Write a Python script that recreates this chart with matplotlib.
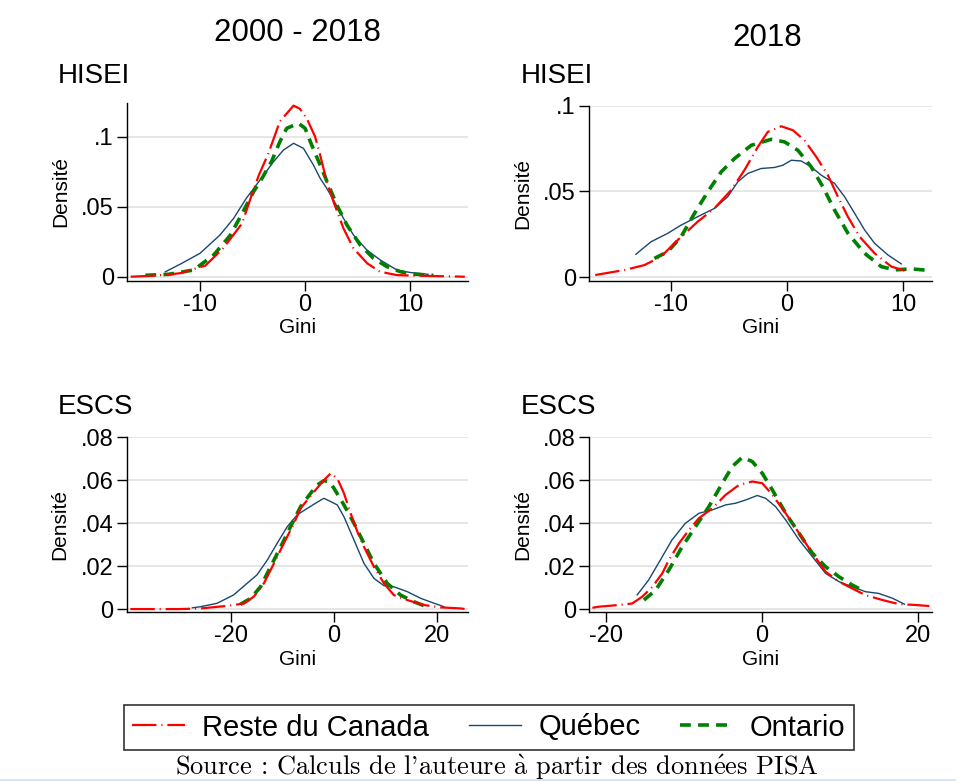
from matplotlib import pyplot as plt
from matplotlib.lines import Line2D

plt.rcParams.update({
    'font.family': ['Liberation Sans', 'DejaVu Sans'],
    'figure.dpi': 100,
    'axes.unicode_minus': False,
})

RED = '#ff0000'
NAVY = '#1a476f'
GREEN = '#008000'
RED_DASH = (11, 2.2, 0.5, 2.2)
GREEN_DASH = (3.0, 2.0)

# HISEI, 2000 - 2018
hisei_all_rdc_x = [-16.6, -15, -13, -11.9, -9.5, -7.8, -6.0, -5.1, -4.4, -3.5, -2.9, -2.4, -1.1, -0.5, 0.16, 0.95, 1.43, 2.06, 2.7, 3.65, 4.6, 5.9, 7.1, 8.7, 10, 12, 15.2]
hisei_all_rdc_y = [0, 0.0005, 0.0015, 0.0025, 0.0079, 0.0203, 0.038, 0.058, 0.0726, 0.088, 0.1005, 0.111, 0.1222, 0.120, 0.113, 0.1, 0.0869, 0.0679, 0.0536, 0.0345, 0.0203, 0.0096, 0.0036, 0.0012, 0.0008, 0.0005, 0]
hisei_all_qc_x = [-13.3, -11.9, -10, -8.1, -6.8, -5.6, -4.3, -3.0, -2.06, -1.1, -0.16, 0.79, 1.43, 2.06, 2.7, 3.65, 4.6, 5.87, 7.14, 8.73, 10, 11.7]
hisei_all_qc_y = [0.0035, 0.0089, 0.0167, 0.0298, 0.0417, 0.056, 0.069, 0.0822, 0.0905, 0.0953, 0.0917, 0.0798, 0.0703, 0.0631, 0.0548, 0.0417, 0.0298, 0.0191, 0.012, 0.0048, 0.003, 0.0017]
hisei_all_on_x = [-15.2, -13, -10.6, -8.7, -7.1, -5.9, -4.9, -4.1, -3.2, -2.4, -1.75, -0.63, 0, 0.63, 1.43, 2.22, 3.02, 3.97, 5.24, 6.51, 7.78, 9.05, 10, 12.2]
hisei_all_on_y = [0.001, 0.0017, 0.0048, 0.0155, 0.0298, 0.0465, 0.0608, 0.0703, 0.0822, 0.0965, 0.106, 0.1096, 0.106, 0.094, 0.0798, 0.0655, 0.0512, 0.037, 0.0227, 0.0131, 0.0072, 0.0036, 0.002, 0.001]

# HISEI, 2018
hisei_18_rdc_x = [-16.5, -16.0, -14, -12.27, -10.84, -9.4, -7.68, -6.25, -4.8, -3.66, -2.5, -1.65, -0.49, 0.52, 1.52, 2.53, 3.53, 4.4, 5.25, 6.27, 7.55, 9.0, 10.14]
hisei_18_rdc_y = [0.0013, 0.0019, 0.0042, 0.0071, 0.012, 0.0217, 0.0324, 0.0401, 0.0508, 0.0624, 0.076, 0.0847, 0.088, 0.0857, 0.0798, 0.0702, 0.0595, 0.0469, 0.0353, 0.0236, 0.014, 0.0062, 0.0039]
hisei_18_qc_x = [-13.0, -11.7, -10.26, -9.11, -7.68, -6.25, -5.1, -4.23, -3.37, -2.22, -1.06, -0.35, 0.38, 1.23, 2.1, 2.96, 4.11, 4.97, 5.84, 6.7, 7.55, 8.7, 9.85]
hisei_18_qc_y = [0.0134, 0.0207, 0.0256, 0.0304, 0.0353, 0.0401, 0.0469, 0.0556, 0.0605, 0.0634, 0.064, 0.0653, 0.0682, 0.0678, 0.0643, 0.0595, 0.0547, 0.0469, 0.0372, 0.0275, 0.0198, 0.013, 0.0078]
hisei_18_on_x = [-11.41, -10.26, -9.11, -7.96, -6.81, -5.66, -4.51, -3.07, -1.35, -0.2, 0.95, 2.1, 3.1, 4.11, 5.26, 6.69, 8.13, 9.28, 10.71, 12.4]
hisei_18_on_y = [0.011, 0.0149, 0.0236, 0.0372, 0.0498, 0.0614, 0.0692, 0.0769, 0.0804, 0.0789, 0.074, 0.0643, 0.0527, 0.0391, 0.0256, 0.014, 0.0062, 0.0043, 0.0049, 0.0039]

# ESCS, 2000 - 2018
escs_all_rdc_x = [-39.4, -30, -25.8, -20.6, -17.4, -15.5, -13.55, -11.6, -9.7, -7.74, -6.45, -5.16, -3.55, -1.93, -0.64, 0.65, 1.94, 3.23, 4.52, 5.81, 7.74, 9.68, 11.6, 14.2, 17.4, 20.6, 24.5, 25.5]
escs_all_rdc_y = [0, 0, 0.0003, 0.0015, 0.0026, 0.0058, 0.012, 0.0213, 0.0306, 0.0399, 0.0469, 0.0508, 0.0555, 0.0601, 0.0632, 0.0609, 0.0539, 0.0446, 0.0361, 0.029, 0.0197, 0.012, 0.0065, 0.0042, 0.0019, 0.0008, 0.0003, 0]
escs_all_qc_x = [-27.4, -25.8, -22.6, -19.4, -16.8, -14.9, -12.9, -11.0, -9.03, -7.1, -5.16, -3.55, -1.94, -0.65, 0.65, 1.94, 3.87, 5.81, 7.74, 9.68, 11.6, 14.2, 16.8, 19.4, 21.3]
escs_all_qc_y = [0.0006, 0.0011, 0.0027, 0.0066, 0.012, 0.0159, 0.0228, 0.0306, 0.0384, 0.0439, 0.0469, 0.0493, 0.0516, 0.0501, 0.0485, 0.043, 0.0322, 0.0213, 0.0143, 0.0109, 0.0104, 0.0081, 0.005, 0.0027, 0.0011]
escs_all_on_x = [-18.1, -16.1, -14.2, -12.26, -10.3, -8.39, -6.45, -4.52, -3.23, -1.94, -0.97, 0, 1.94, 3.87, 5.81, 7.74, 10.3, 12.9, 15.5, 17.5]
escs_all_on_y = [0.0022, 0.005, 0.0104, 0.0197, 0.029, 0.0384, 0.0477, 0.0539, 0.0578, 0.0598, 0.0594, 0.0563, 0.0485, 0.04, 0.0306, 0.0213, 0.012, 0.0065, 0.0034, 0.0015]

# ESCS, 2018
escs_18_rdc_x = [-21.7, -20.9, -18.3, -16.6, -15.3, -14.0, -12.75, -11.9, -10.6, -9.33, -8.05, -6.34, -4.62, -2.91, -1.2, 0.08, 1.37, 3.08, 4.8, 6.5, 8.2, 9.9, 11.6, 13.3, 15.5, 17.6, 19.8, 21.5]
escs_18_rdc_y = [0.0006, 0.0011, 0.0019, 0.0026, 0.0058, 0.0104, 0.0166, 0.0228, 0.0306, 0.0368, 0.0423, 0.0469, 0.0532, 0.0578, 0.0594, 0.0586, 0.0532, 0.0446, 0.0353, 0.026, 0.0174, 0.0128, 0.0096, 0.0065, 0.0042, 0.0023, 0.0019, 0.0014]
escs_18_qc_x = [-15.96, -14.5, -13.0, -11.5, -9.8, -8.05, -6.34, -4.62, -3.34, -2.06, -0.56, 0.5, 1.79, 3.08, 4.8, 6.5, 8.2, 9.9, 11.6, 13.3, 15.0, 16.8, 18.3]
escs_18_qc_y = [0.0066, 0.0135, 0.0228, 0.0322, 0.0399, 0.0446, 0.0462, 0.0485, 0.0493, 0.0508, 0.0529, 0.0516, 0.0477, 0.0415, 0.0322, 0.0244, 0.0166, 0.0128, 0.0104, 0.0081, 0.0073, 0.005, 0.0023]
escs_18_on_x = [-15.1, -13.6, -11.9, -10.2, -8.48, -6.77, -5.05, -3.77, -2.48, -1.2, 0.08, 1.37, 3.08, 4.8, 6.5, 8.2, 9.9, 11.6, 12.9]
escs_18_on_y = [0.0042, 0.0088, 0.0182, 0.029, 0.0384, 0.0477, 0.0586, 0.0664, 0.0707, 0.0687, 0.0632, 0.0555, 0.0446, 0.0353, 0.026, 0.0197, 0.0151, 0.0112, 0.0088]

labels = ['Reste du Canada', 'Québec', 'Ontario']

W, H = 956, 781
fig = plt.figure(figsize=(W / 100, H / 100))


def px_axes(left, right, top, bottom):
    return fig.add_axes([left / W, 1 - bottom / H, (right - left) / W, (bottom - top) / H])


def density_panel(ax, rdc, qc, on, xlim, ylim, yticks, yticklabels, xticks):
    ax.plot(qc[0], qc[1], color=NAVY, lw=1.0, zorder=3)
    ax.plot(on[0], on[1], color=GREEN, lw=2.6, dashes=GREEN_DASH, zorder=4)
    ax.plot(rdc[0], rdc[1], color=RED, lw=1.6, dashes=RED_DASH, zorder=5)
    ax.set_xlim(*xlim)
    ax.set_ylim(*ylim)
    ax.set_yticks(yticks)
    ax.set_yticklabels(yticklabels, fontsize=17)
    ax.set_xticks(xticks)
    ax.set_xticklabels([str(t) for t in xticks], fontsize=17)
    for y in yticks:
        ax.axhline(y, color='#e6e6e6', lw=1.4, zorder=1)
    for s in ['top', 'right']:
        ax.spines[s].set_visible(False)
    for s in ['left', 'bottom']:
        ax.spines[s].set_linewidth(1.0)
    ax.tick_params(axis='both', direction='out', length=7, width=1.0, pad=2.5)
    ax.set_xlabel('Gini', fontsize=15, labelpad=1.5)
    ax.set_ylabel('Densité', fontsize=15, labelpad=8)


ax1 = px_axes(127, 468, 102.7, 280.7)
density_panel(ax1, (hisei_all_rdc_x, hisei_all_rdc_y), (hisei_all_qc_x, hisei_all_qc_y),
              (hisei_all_on_x, hisei_all_on_y), (-16.95, 15.5), (-0.00286, 0.1243),
              [0, 0.05, 0.1], ['0', '.05', '.1'], [-10, 0, 10])

ax2 = px_axes(589, 931.7, 105.7, 280.7)
density_panel(ax2, (hisei_18_rdc_x, hisei_18_rdc_y), (hisei_18_qc_x, hisei_18_qc_y),
              (hisei_18_on_x, hisei_18_on_y), (-17.04, 12.47), (-0.002, 0.0998),
              [0, 0.05, 0.1], ['0', '.05', '.1'], [-10, 0, 10])

ax3 = px_axes(126.7, 468.3, 437.3, 612.3)
density_panel(ax3, (escs_all_rdc_x, escs_all_rdc_y), (escs_all_qc_x, escs_all_qc_y),
              (escs_all_on_x, escs_all_on_y), (-40.1, 26), (-0.0015, 0.08),
              [0, 0.02, 0.04, 0.06, 0.08], ['0', '.02', '.04', '.06', '.08'], [-20, 0, 20])

ax4 = px_axes(589.3, 931.7, 437.3, 612.3)
density_panel(ax4, (escs_18_rdc_x, escs_18_rdc_y), (escs_18_qc_x, escs_18_qc_y),
              (escs_18_on_x, escs_18_on_y), (-22.1, 21.8), (-0.0015, 0.08),
              [0, 0.02, 0.04, 0.06, 0.08], ['0', '.02', '.04', '.06', '.08'], [-20, 0, 20])

# column titles and panel subtitles
fig.text(297 / W, 1 - 33 / H, '2000 - 2018', fontsize=22.5, ha='center', va='center')
fig.text(767 / W, 1 - 38 / H, '2018', fontsize=22.5, ha='center', va='center')
for x, y, t in [(58, 76, 'HISEI'), (521, 76, 'HISEI'), (58, 407, 'ESCS'), (521, 407, 'ESCS')]:
    fig.text(x / W, 1 - y / H, t, fontsize=20, ha='left', va='center')

handles = [
    Line2D([], [], color=RED, lw=1.6, dashes=RED_DASH),
    Line2D([], [], color=NAVY, lw=1.0),
    Line2D([], [], color=GREEN, lw=2.6, dashes=GREEN_DASH),
]
leg = fig.legend(handles, labels, loc='center', bbox_to_anchor=(489 / W, 1 - 727.5 / H),
                 ncol=3, fontsize=21, frameon=True, fancybox=False, edgecolor='black',
                 handlelength=1.8, handletextpad=0.6, columnspacing=1.35, borderpad=0.3)
leg.get_frame().set_linewidth(1.2)

fig.text(497 / W, 1 - 775 / H,
         r"Source : Calculs de l'auteure $\grave{\mathrm{a}}$ partir des donn$\acute{\mathrm{e}}$es PISA",
         fontsize=19, ha='center', va='baseline', family='cmr10', math_fontfamily='cm')

fig.add_artist(Line2D([0, 1], [1.5 / H, 1.5 / H], color='#d5e3f2', lw=2))

fig.savefig('out.png', dpi=100)
